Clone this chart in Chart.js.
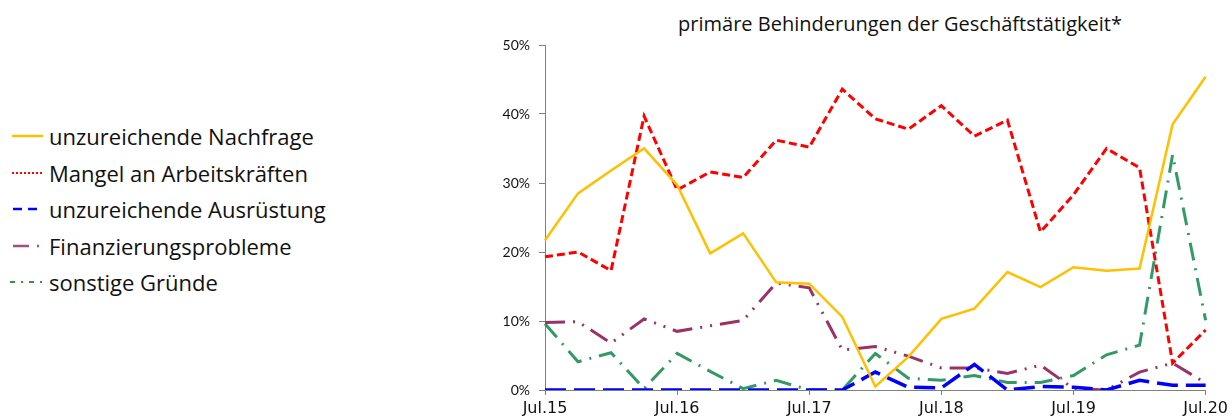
<!DOCTYPE html>
<html lang="de">
<head>
    <meta charset="UTF-8">
    <title>primäre Behinderungen der Geschäftstätigkeit</title>
    <script src="https://cdn.jsdelivr.net/npm/chart.js"></script>
    <style>
        body {
            margin: 0;
            background: #fff;
            width: 1232px;
            height: 417px;
            position: relative;
            overflow: hidden;
            font-family: 'Open Sans', sans-serif;
            color: #111;
        }

        .title {
            position: absolute;
            left: 600px;
            width: 600px;
            top: 11px;
            text-align: center;
            font-size: 20px;
            line-height: 26px;
        }

        .legend {
            position: absolute;
            left: 10px;
            top: 118px;
        }

        .legend .row {
            height: 36.5px;
            display: flex;
            align-items: center;
            font-size: 22px;
        }

        .legend svg {
            width: 36px;
            height: 10px;
            margin-right: 3px;
        }

        .chart-box {
            position: absolute;
            left: 490px;
            top: 0;
            width: 742px;
            height: 417px;
        }
    </style>
</head>
<body>

    <div class="title">primäre Behinderungen der Geschäftstätigkeit*</div>

    <div class="legend">
        <div class="row"><svg><line x1="2" y1="5" x2="33" y2="5" stroke="#FFC000" stroke-width="2.5"/></svg>unzureichende Nachfrage</div>
        <div class="row"><svg><line x1="2" y1="5" x2="33" y2="5" stroke="#FF0000" stroke-width="2" stroke-dasharray="2,2"/></svg>Mangel an Arbeitskräften</div>
        <div class="row"><svg><line x1="3" y1="5" x2="27" y2="5" stroke="#0000FF" stroke-width="2.5" stroke-dasharray="9,6"/></svg>unzureichende Ausrüstung</div>
        <div class="row"><svg><line x1="3" y1="5" x2="30" y2="5" stroke="#A0507A" stroke-width="2.5" stroke-dasharray="16,8,2,8"/></svg>Finanzierungsprobleme</div>
        <div class="row"><svg><line x1="0" y1="5" x2="36" y2="5" stroke="#2E9A3A" stroke-width="2" stroke-dasharray="5,6,2,6"/></svg>sonstige Gründe</div>
    </div>

    <div class="chart-box">
        <canvas id="chart" width="742" height="417"></canvas>
    </div>

    <script>
        // Quartale Jul.15 - Jul.20
        const quartale = [
            'Jul.15', 'Okt.15', 'Jan.16', 'Apr.16', 'Jul.16', 'Okt.16', 'Jan.17', 'Apr.17',
            'Jul.17', 'Okt.17', 'Jan.18', 'Apr.18', 'Jul.18', 'Okt.18', 'Jan.19', 'Apr.19',
            'Jul.19', 'Okt.19', 'Jan.20', 'Apr.20', 'Jul.20'
        ];

        // Anteile in %
        const nachfrage   = [21.7, 28.5, 31.8, 35.0, 29.7, 19.8, 22.7, 15.6, 15.4, 10.6, 0.5, 4.8, 10.3, 11.8, 17.1, 14.9, 17.8, 17.3, 17.6, 38.5, 45.4];
        const arbeitskr   = [19.3, 20.0, 17.3, 39.7, 29.0, 31.6, 30.8, 36.2, 35.2, 43.6, 39.3, 37.8, 41.2, 36.8, 39.1, 22.9, 28.3, 35.0, 32.2, 3.9, 8.7];
        const ausruestung = [0, 0, 0, 0, 0, 0, 0, 0, 0, 0, 2.6, 0.4, 0.3, 3.7, 0, 0.5, 0.4, 0, 1.4, 0.7, 0.7];
        const finanzierung = [9.8, 9.9, 6.8, 10.3, 8.5, 9.3, 10.1, 15.5, 14.8, 5.8, 6.3, 4.9, 3.2, 3.2, 2.4, 3.6, 0.2, 0, 2.6, 3.9, 1.0];
        const sonstige    = [9.6, 4.1, 5.4, 0.2, 5.3, 2.7, 0.2, 1.4, 0, 0, 5.3, 1.7, 1.4, 2.1, 1.1, 1.1, 2.1, 5.1, 6.5, 34.1, 10.1];

        const yTicks = [0, 10, 20, 30, 40, 50];

        const axisGrey = '#808080';

        function line(label, data, color, width, dash) {
            return {
                label,
                data,
                borderColor: color,
                backgroundColor: color,
                borderWidth: width,
                borderDash: dash,
                pointRadius: 0,
                tension: 0,
                fill: false
            };
        }

        const ctx = document.getElementById('chart').getContext('2d');
        new Chart(ctx, {
            type: 'line',
            data: {
                labels: quartale,
                datasets: [
                    line('unzureichende Nachfrage', nachfrage, '#FFC000', 2.5, []),
                    line('Mangel an Arbeitskräften', arbeitskr, '#FF0000', 3, [8, 4]),
                    line('unzureichende Ausrüstung', ausruestung, '#0000FF', 3.5, [21, 8]),
                    line('Finanzierungsprobleme', finanzierung, '#993366', 3, [20, 8, 2, 8, 2, 8]),
                    line('sonstige Gründe', sonstige, '#339966', 3, [18, 8, 2, 8])
                ]
            },
            options: {
                responsive: false,
                animation: false,
                layout: {
                    padding: { left: 0, right: 24, top: 45, bottom: 0 }
                },
                plugins: {
                    legend: { display: false },
                    tooltip: { enabled: false }
                },
                scales: {
                    x: {
                        offset: false,
                        afterFit: (s) => { s.height = 27; },
                        border: { color: axisGrey, width: 1 },
                        grid: {
                            drawOnChartArea: false,
                            drawTicks: true,
                            tickLength: 5,
                            color: (c) => (c.index % 4 === 0 ? axisGrey : 'rgba(0,0,0,0)')
                        },
                        ticks: {
                            autoSkip: false,
                            maxRotation: 0,
                            padding: 4,
                            color: '#111',
                            font: { family: 'DejaVu Sans', size: 16 },
                            callback: function (v, i) {
                                return i % 4 === 0 ? quartale[i] : '';
                            }
                        }
                    },
                    y: {
                        min: 0,
                        max: 50,
                        afterFit: (s) => { s.width = 55; },
                        afterBuildTicks: (s) => { s.ticks = yTicks.map(v => ({ value: v })); },
                        border: { color: axisGrey, width: 1 },
                        grid: {
                            drawOnChartArea: false,
                            drawTicks: true,
                            tickLength: 6,
                            color: axisGrey
                        },
                        ticks: {
                            padding: 9,
                            color: '#111',
                            font: { family: 'Lato', size: 14 },
                            callback: (v) => v + '%'
                        }
                    }
                }
            }
        });
    </script>

</body>
</html>
